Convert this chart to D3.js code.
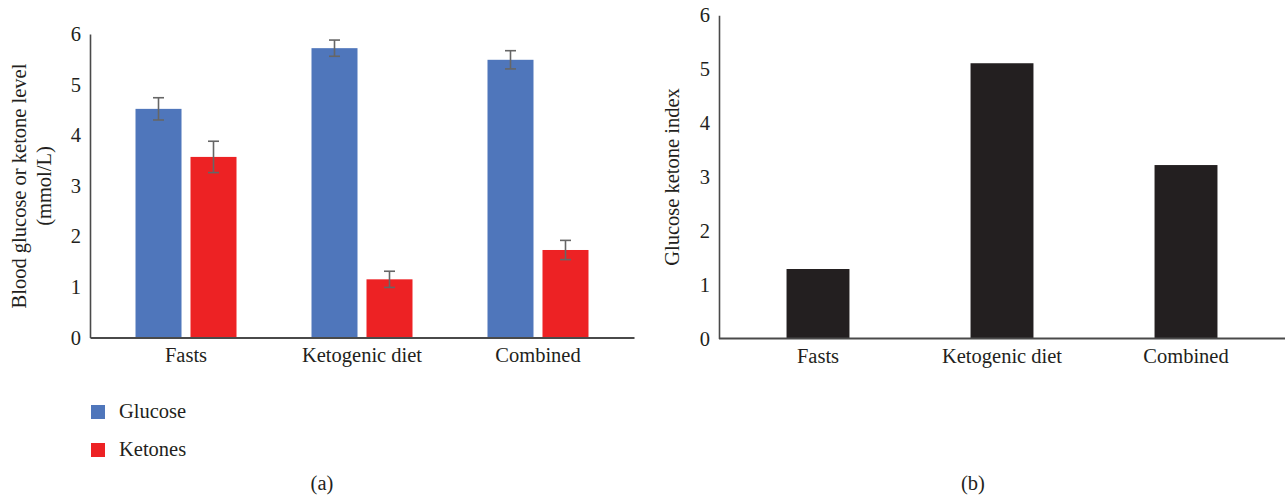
<!DOCTYPE html>
<html>
<head>
<meta charset="utf-8">
<script src="https://cdn.jsdelivr.net/npm/d3@7"></script>
<style>
  body { margin: 0; background: #fff; }
  svg text { font-family: "Liberation Serif", "DejaVu Serif", serif; fill: #231f20; }
</style>
</head>
<body>
<svg id="chart" width="1285" height="496"></svg>
<script>
var categories = ["Fasts", "Ketogenic diet", "Combined"];
var seriesNames = ["Glucose", "Ketones"];
var glucose    = [4.52, 5.72, 5.49];
var glucoseErr = [0.22, 0.16, 0.18];
var ketones    = [3.57, 1.15, 1.73];
var ketonesErr = [0.31, 0.16, 0.19];
var gki        = [1.29, 5.11, 3.22];
var yTicks     = [0, 1, 2, 3, 4, 5, 6];

var colors = {Glucose: "#4f76bb", Ketones: "#ed2224"};
var axisColor = "#4a4a4a";
var fontSize = 20.5;

var svg = d3.select("#chart");

// ---------- panel (a) ----------
var ya = d3.scaleLinear().domain([0, 6]).range([337.5, 34]);
var xa = d3.scaleBand().domain(categories).range([90, 634])
    .paddingInner(0).paddingOuter(0.0455);
var xsub = d3.scaleBand().domain(seriesNames).range([0, 101]).paddingInner(0.1636);

var pa = svg.append("g").attr("class", "panel-a");

var groups = categories.map(function(c, i) {
  return {cat: c, vals: [
    {s: "Glucose", v: glucose[i], e: glucoseErr[i]},
    {s: "Ketones", v: ketones[i], e: ketonesErr[i]}
  ]};
});

var g = pa.selectAll("g.group")
  .data(groups)
  .enter().append("g")
    .attr("class", "group")
    .attr("transform", function(d) {
      return "translate(" + (xa(d.cat) + xa.bandwidth() / 2 - 50.5) + ",0)";
    });

g.selectAll("rect")
  .data(function(d) { return d.vals; })
  .enter().append("rect")
    .attr("x", function(d) { return xsub(d.s); })
    .attr("width", xsub.bandwidth())
    .attr("y", function(d) { return ya(d.v); })
    .attr("height", function(d) { return ya(0) - ya(d.v); })
    .attr("fill", function(d) { return colors[d.s]; });

// error bars
var err = g.selectAll("g.err")
  .data(function(d) { return d.vals; })
  .enter().append("g")
    .attr("class", "err")
    .attr("stroke", "#666")
    .attr("stroke-width", 1.6);

err.append("line")
  .attr("x1", function(d) { return xsub(d.s) + xsub.bandwidth() / 2; })
  .attr("x2", function(d) { return xsub(d.s) + xsub.bandwidth() / 2; })
  .attr("y1", function(d) { return ya(d.v - d.e); })
  .attr("y2", function(d) { return ya(d.v + d.e); });

[-1, 1].forEach(function(sign) {
  err.append("line")
    .attr("x1", function(d) { return xsub(d.s) + xsub.bandwidth() / 2 - 5.5; })
    .attr("x2", function(d) { return xsub(d.s) + xsub.bandwidth() / 2 + 5.5; })
    .attr("y1", function(d) { return ya(d.v + sign * d.e); })
    .attr("y2", function(d) { return ya(d.v + sign * d.e); });
});

// axes
var yAxisA = d3.axisLeft(ya).tickValues(yTicks).tickFormat(d3.format("d"))
    .tickSize(0).tickPadding(9).tickSizeOuter(0);
var gya = pa.append("g").attr("transform", "translate(90,0)").call(yAxisA);
gya.select(".domain").attr("stroke", axisColor).attr("stroke-width", 1.6);
gya.selectAll("text").style("font-size", fontSize + "px");

var xAxisA = d3.axisBottom(xa).tickSize(0).tickPadding(10).tickSizeOuter(0);
var gxa = pa.append("g").attr("transform", "translate(0," + ya(0) + ")").call(xAxisA);
gxa.select(".domain").attr("stroke", axisColor).attr("stroke-width", 1.8);
gxa.selectAll("text").style("font-size", fontSize + "px");

pa.append("text")
  .attr("transform", "translate(26,186) rotate(-90)")
  .attr("text-anchor", "middle")
  .style("font-size", fontSize + "px")
  .text("Blood glucose or ketone level");
pa.append("text")
  .attr("transform", "translate(51,186) rotate(-90)")
  .attr("text-anchor", "middle")
  .style("font-size", fontSize + "px")
  .text("(mmol/L)");

// legend
var legend = pa.selectAll("g.legend")
  .data(seriesNames)
  .enter().append("g")
    .attr("class", "legend")
    .attr("transform", function(d, i) { return "translate(91," + (405 + i * 38) + ")"; });
legend.append("rect")
  .attr("width", 14).attr("height", 14)
  .attr("fill", function(d) { return colors[d]; });
legend.append("text")
  .attr("x", 28).attr("y", 13)
  .style("font-size", fontSize + "px")
  .text(function(d) { return d; });

pa.append("text")
  .attr("x", 322).attr("y", 490)
  .attr("text-anchor", "middle")
  .style("font-size", fontSize + "px")
  .text("(a)");

// ---------- panel (b) ----------
var yb = d3.scaleLinear().domain([0, 6]).range([338.5, 15.3]);
var xb = d3.scaleBand().domain(categories).range([719, 1285])
    .paddingInner(0.658).paddingOuter(0.367);

var pb = svg.append("g").attr("class", "panel-b");

pb.selectAll("rect")
  .data(gki)
  .enter().append("rect")
    .attr("x", function(d, i) { return xb(categories[i]); })
    .attr("width", xb.bandwidth())
    .attr("y", function(d) { return yb(d); })
    .attr("height", function(d) { return yb(0) - yb(d); })
    .attr("fill", "#231f20");

var yAxisB = d3.axisLeft(yb).tickValues(yTicks).tickFormat(d3.format("d"))
    .tickSize(0).tickPadding(9).tickSizeOuter(0);
var gyb = pb.append("g").attr("transform", "translate(719,0)").call(yAxisB);
gyb.select(".domain").attr("stroke", axisColor).attr("stroke-width", 1.6);
gyb.selectAll("text").style("font-size", fontSize + "px");

var xAxisB = d3.axisBottom(xb).tickSize(0).tickPadding(10).tickSizeOuter(0);
var gxb = pb.append("g").attr("transform", "translate(0," + yb(0) + ")").call(xAxisB);
gxb.select(".domain").attr("d", "M719,0H1285").attr("stroke", axisColor).attr("stroke-width", 1.8);
gxb.selectAll("text").style("font-size", fontSize + "px");

pb.append("text")
  .attr("transform", "translate(679,177) rotate(-90)")
  .attr("text-anchor", "middle")
  .style("font-size", fontSize + "px")
  .text("Glucose ketone index");

pb.append("text")
  .attr("x", 973).attr("y", 490)
  .attr("text-anchor", "middle")
  .style("font-size", fontSize + "px")
  .text("(b)");
</script>
</body>
</html>
